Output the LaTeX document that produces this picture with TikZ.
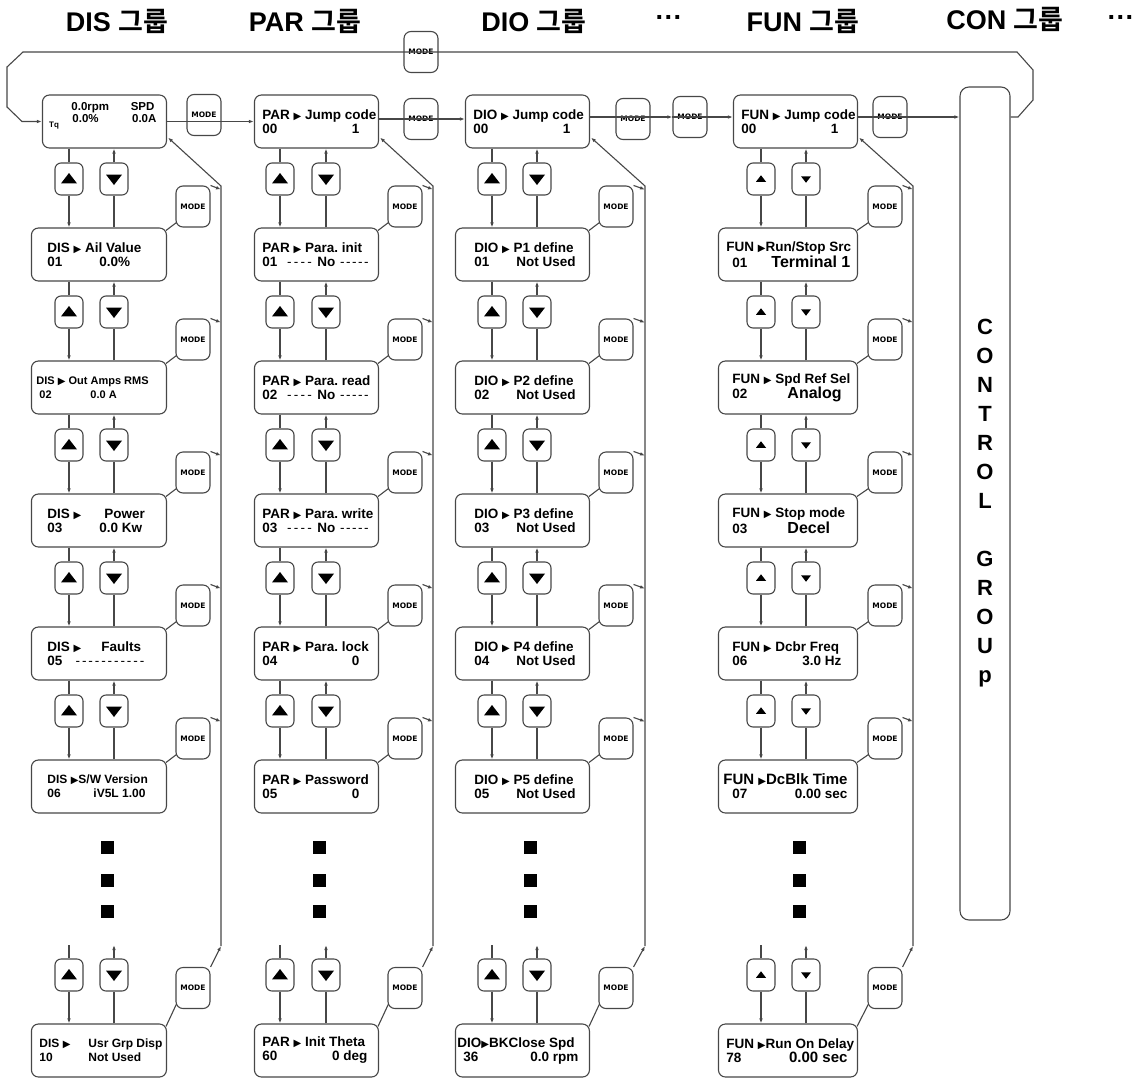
\documentclass[tikz,border=0pt]{standalone}
\usepackage{fontspec}
\setmainfont{Liberation Sans}
\newfontfamily\krfont{Noto Sans CJK KR}[BoldFont={Noto Sans CJK KR Bold}]
\newfontfamily\symfont{DejaVu Sans}
\usetikzlibrary{arrows.meta,calc}

\newcommand\lcdfont{\bfseries\fontsize{13.5}{14}\selectfont}
\newcommand\ptr{{\symfont\fontsize{10}{8}\selectfont ▶}}
\newcommand\dashrun[1]{{\mdseries\xleaders\hbox to 6pt{\hss-\hss}\hskip#1}}
\newcommand\lcdtext[3]{\makebox[#1][l]{#2}\\\makebox[#1][l]{#3}}

\begin{document}
\begin{tikzpicture}[x=1pt, y=-1pt, >={Latex[length=5pt,width=3.6pt]}, line width=1.1pt, color=black!72,
  every node/.style={text=black},
  lcd/.style={draw, rounded corners=7pt, anchor=east, minimum height=53pt, inner xsep=8pt, inner ysep=2pt, align=left, font=\lcdfont},
  keybtn/.style={draw, rounded corners=6pt, minimum width=28pt, minimum height=32pt, inner sep=0pt},
  upkey/.style={keybtn, path picture={\fill[black, sharp corners] ([shift={(-#1,0.55*#1)}]path picture bounding box.center) -- ([shift={(#1,0.55*#1)}]path picture bounding box.center) -- ([shift={(0,-0.75*#1)}]path picture bounding box.center) -- cycle;}},
  downkey/.style={keybtn, path picture={\fill[black, sharp corners] ([shift={(-#1,-0.55*#1)}]path picture bounding box.center) -- ([shift={(#1,-0.55*#1)}]path picture bounding box.center) -- ([shift={(0,0.75*#1)}]path picture bounding box.center) -- cycle;}},
  modekey/.style={draw, rounded corners=7pt, minimum width=34pt, minimum height=41pt, inner sep=0pt, font=\symfont\bfseries\fontsize{7.5}{8}\selectfont},
  blk/.style={fill=black, minimum size=13pt, inner sep=0pt},
  grp/.style={font=\bfseries\fontsize{27}{27}\selectfont}]
\useasboundingbox (0,0) rectangle (1142,1079);

% group titles
\node[grp] (t-dis) at (117,21) {DIS {\krfont 그룹}};
\node[grp] (t-par) at (305,21) {PAR {\krfont 그룹}};
\node[grp] (t-dio) at (534,21) {DIO {\krfont 그룹}};
\node[grp] (t-more1) at (669,21) {···};
\node[grp] (t-fun) at (803,21) {FUN {\krfont 그룹}};
\node[grp] (t-con) at (1005,19) {CON {\krfont 그룹}};
\node[grp] (t-more2) at (1121,21) {···};

% DIS group
\node[lcd, font=\bfseries\fontsize{11.5}{12}\selectfont] (dis0) at (167,121.5) {\lcdtext{108pt}{\hspace*{21pt}0.0rpm\hfill SPD\hspace*{4pt}}{\hspace*{22pt}0.0\%\hfill 0.0A\hspace*{2pt}}\\[6pt]\mbox{}};
\node[font=\bfseries\fontsize{8}{8}\selectfont] (tq) at (54,126) {Tq};
\node[lcd] (dis1) at (167,254.5) {\lcdtext{119pt}{\hspace*{8pt}DIS \ptr{} Ail Value}{\hspace*{8pt}\makebox[52pt][l]{01}0.0\%}};
\node[lcd, font=\bfseries\fontsize{11}{14}\selectfont] (dis2) at (167,387.5) {\lcdtext{119pt}{\hspace*{-3pt}DIS \ptr{} Out Amps RMS}{\makebox[51pt][l]{02}0.0 A}};
\node[lcd] (dis3) at (167,520.5) {\lcdtext{119pt}{\hspace*{8pt}\makebox[57pt][l]{DIS \ptr}Power}{\hspace*{8pt}\makebox[52pt][l]{03}0.0 Kw}};
\node[lcd] (dis4) at (167,653.5) {\lcdtext{119pt}{\hspace*{8pt}\makebox[54pt][l]{DIS \ptr}Faults}{\hspace*{8pt}\makebox[27pt][l]{05}\dashrun{71pt}}};
\node[lcd, font=\bfseries\fontsize{12}{14}\selectfont] (dis5) at (167,786.5) {\lcdtext{119pt}{\hspace*{8pt}DIS \ptr S/W Version}{\hspace*{8pt}\makebox[46pt][l]{06}iV5L 1.00}};
\node[lcd, font=\bfseries\fontsize{12}{14}\selectfont] (dis9) at (167,1050.5) {\lcdtext{119pt}{\makebox[49pt][l]{DIS \ptr}Usr Grp Disp}{\makebox[49pt][l]{10}Not Used}};

% PAR group
\node[lcd] (par0) at (379,121.5) {\lcdtext{108pt}{PAR \ptr{} Jump code}{00\hfill 1\hspace*{11pt}}};
\node[lcd] (par1) at (379,254.5) {\lcdtext{108pt}{PAR \ptr{} Para.\ init}{01\hspace{8pt}\dashrun{28pt}\hspace{4pt}No\hspace{4pt}\dashrun{30pt}}};
\node[lcd] (par2) at (379,387.5) {\lcdtext{108pt}{PAR \ptr{} Para.\ read}{02\hspace{8pt}\dashrun{28pt}\hspace{4pt}No\hspace{4pt}\dashrun{30pt}}};
\node[lcd] (par3) at (379,520.5) {\lcdtext{108pt}{PAR \ptr{} Para.\ write}{03\hspace{8pt}\dashrun{28pt}\hspace{4pt}No\hspace{4pt}\dashrun{30pt}}};
\node[lcd] (par4) at (379,653.5) {\lcdtext{108pt}{PAR \ptr{} Para.\ lock}{04\hfill 0\hspace*{11pt}}};
\node[lcd] (par5) at (379,786.5) {\lcdtext{108pt}{PAR \ptr{} Password}{05\hfill 0\hspace*{11pt}}};
\node[lcd] (par9) at (379,1050.5) {\lcdtext{108pt}{PAR \ptr{} Init Theta}{60\hfill 0 deg\hspace*{3pt}}};

% DIO group
\node[lcd] (dio0) at (590,121.5) {\lcdtext{108pt}{DIO \ptr{} Jump code}{00\hfill 1\hspace*{11pt}}};
\node[lcd] (dio1) at (590,254.5) {\lcdtext{118pt}{\hspace*{11pt}DIO \ptr{} P1 define}{\hspace*{11pt}\makebox[42pt][l]{01}Not Used}};
\node[lcd] (dio2) at (590,387.5) {\lcdtext{118pt}{\hspace*{11pt}DIO \ptr{} P2 define}{\hspace*{11pt}\makebox[42pt][l]{02}Not Used}};
\node[lcd] (dio3) at (590,520.5) {\lcdtext{118pt}{\hspace*{11pt}DIO \ptr{} P3 define}{\hspace*{11pt}\makebox[42pt][l]{03}Not Used}};
\node[lcd] (dio4) at (590,653.5) {\lcdtext{118pt}{\hspace*{11pt}DIO \ptr{} P4 define}{\hspace*{11pt}\makebox[42pt][l]{04}Not Used}};
\node[lcd] (dio5) at (590,786.5) {\lcdtext{118pt}{\hspace*{11pt}DIO \ptr{} P5 define}{\hspace*{11pt}\makebox[42pt][l]{05}Not Used}};
\node[lcd] (dio9) at (590,1050.5) {\lcdtext{118pt}{\hspace*{-6pt}DIO\ptr BKClose Spd}{36\hfill 0.0 rpm\hspace*{3pt}}};

% FUN group
\node[lcd] (fun0) at (858,121.5) {\lcdtext{108pt}{FUN \ptr{} Jump code}{00\hfill 1\hspace*{11pt}}};
\node[lcd] (fun1) at (858,254.5) {\lcdtext{123pt}{FUN \ptr Run/Stop Src}{\hspace*{6pt}\makebox[39pt][l]{01}{\fontsize{16}{14}\selectfont Terminal 1}}};
\node[lcd] (fun2) at (858,387.5) {\lcdtext{123pt}{\hspace*{6pt}FUN \ptr{} Spd Ref Sel}{\hspace*{6pt}\makebox[55pt][l]{02}{\fontsize{16}{14}\selectfont Analog}}};
\node[lcd] (fun3) at (858,520.5) {\lcdtext{123pt}{\hspace*{6pt}FUN \ptr{} Stop mode}{\hspace*{6pt}\makebox[55pt][l]{03}{\fontsize{16}{14}\selectfont Decel}}};
\node[lcd] (fun4) at (858,653.5) {\lcdtext{123pt}{\hspace*{6pt}FUN \ptr{} Dcbr Freq}{\hspace*{6pt}06\hfill 3.0 Hz\hspace*{8pt}}};
\node[lcd] (fun5) at (858,786.5) {\lcdtext{123pt}{{\fontsize{15}{14}\selectfont\hspace*{-3pt}FUN \ptr DcBlk Time}}{\hspace*{6pt}07\hfill 0.00 sec\hspace*{2pt}}};
\node[lcd] (fun9) at (858,1050.5) {\lcdtext{123pt}{FUN \ptr Run On Delay}{78\hfill{\fontsize{15}{14}\selectfont 0.00 sec}\hspace*{2pt}}};

% CONTROL group
\node[draw, rounded corners=9pt, minimum width=50pt, minimum height=833pt, inner sep=0pt, align=center, font=\bfseries\fontsize{22}{29}\selectfont] (con) at (985,503.5) {C\\O\\N\\T\\R\\O\\L\\[29pt]G\\R\\O\\U\\p};

% keys and links inside each group
\foreach \col/\ux/\dnx/\mx/\rx/\bx/\tw in {dis/69/114/193/221/107/8, par/280/326/405/433/319/8, dio/492/537/616/645/530/8, fun/761/806/885/913/799/5}{
  \foreach \i/\y/\j in {0/121.5/1, 1/254.5/2, 2/387.5/3, 3/520.5/4, 4/653.5/5}{
    \node[upkey=\tw] (\col-u\i) at (\ux,\y+57.5) {};
    \node[downkey=\tw] (\col-d\i) at (\dnx,\y+57.5) {};
    \draw (\col-u\i |- \col\i.south) -- (\col-u\i);
    \draw[->] (\col-u\i) -- (\col-u\i |- \col\j.north);
    \draw (\col-d\i |- \col\j.north) -- (\col-d\i);
    \draw[->] (\col-d\i) -- (\col-d\i |- \col\i.south);
  }
  \foreach \i/\y in {1/254.5, 2/387.5, 3/520.5, 4/653.5, 5/786.5}{
    \node[modekey] (\col-m\i) at (\mx,\y-48) {MODE};
    \coordinate (\col-r\i) at (\rx,\y-65);
    \draw ($(\col\i.north east)+(-1,3)$) -- ($(\col-m\i.south west)+(1,-5)$);
    \draw[->] (\col-m\i.north east) -- (\col-r\i);
  }
  % continued list
  \foreach \k/\y in {1/847, 2/880, 3/911}
    \node[blk] (\col-b\k) at (\bx,\y) {};
  % last entry
  \node[upkey=\tw] (\col-u5) at (\ux,975) {};
  \node[downkey=\tw] (\col-d5) at (\dnx,975) {};
  \coordinate (\col-ut) at (\ux,945);
  \coordinate (\col-dt) at (\dnx,945);
  \draw (\col-ut) -- (\col-u5);
  \draw[->] (\col-u5) -- (\col-u5 |- \col9.north);
  \draw (\col-d5 |- \col9.north) -- (\col-d5);
  \draw[->] (\col-d5) -- (\col-dt);
  \node[modekey] (\col-m9) at (\mx,988) {MODE};
  \coordinate (\col-r9) at (\rx,946);
  \draw ($(\col9.north east)+(-1,3)$) -- ($(\col-m9.south west)+(1,-5)$);
  \draw[->] (\col-m9.north east) -- (\col-r9);
  % back to the first entry
  \coordinate (\col-rt) at (\rx,186);
  \draw[->] (\col-r9) -- (\col-rt) -- ($(\col0.south east)+(1,-11)$);
}

% moving between groups
\node[modekey] (m-top) at (421,52) {MODE};
\node[modekey] (m-dp) at (204,115) {MODE};
\node[modekey] (m-pd) at (421,119) {MODE};
\node[modekey] (m-df) at (633,119) {MODE};
\node[modekey] (m-ff) at (690,117) {MODE};
\node[modekey] (m-fc) at (890,117) {MODE};
\draw[->] (dis0) -- (par0);
\draw[->] (par0.east |- m-pd) -- (dio0.west |- m-pd);
\draw[->] (dio0.east |- m-ff) -- (m-ff.west);
\draw[->] (m-ff.west) -- (fun0.west |- m-ff);
\draw[->] (fun0.east |- m-fc) -- (con.west |- m-fc);
\draw[->] (con.east |- m-fc) -- (1018,117) -- (1033,100) -- (1033,70) -- (1017,52) -- (23,52) -- (7,67) -- (7,107) -- (22,121.5) -- (dis0.west);
\end{tikzpicture}
\end{document}
